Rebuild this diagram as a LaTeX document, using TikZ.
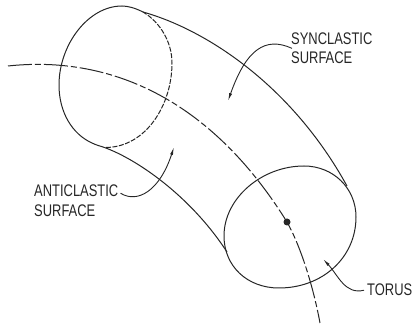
\documentclass[tikz,border=0pt]{standalone}
\usepackage{fontspec}
\setmainfont[FakeStretch=0.77]{Liberation Sans}
\usetikzlibrary{arrows.meta}

\begin{document}
\begin{tikzpicture}[
  x=1pt, y=-1pt,
  label/.style={font=\fontsize{16.8}{19}\selectfont, text=black!85, anchor=base west, inner sep=0pt},
  edge/.style={line width=1pt, draw=black!85},
  hidden/.style={edge, dash pattern=on 5pt off 1.5pt},
  axis/.style={edge, dash pattern=on 24pt off 3pt on 6pt off 3pt},
  lead/.style={-{Latex[length=8pt,width=3pt]}, line width=0.9pt, draw=black!85},
]
\useasboundingbox (0,0) rectangle (413,328);

% ---------- labels ----------
\node[label] (syn1) at (291,45) {SYNCLASTIC};
\node[label] (syn2) at (291,64) {SURFACE};
\node[label] (anti1) at (34,197) {ANTICLASTIC};
\node[label] (anti2) at (34,217) {SURFACE};
\node[label] (torus) at (367,296) {TORUS};

% ---------- arrow ends ----------
\coordinate (synTip) at (228,101);
\coordinate (antiTip) at (174,147);
\coordinate (torusTip) at (323,259);

% ---------- body ----------
\draw[edge] (143,12) .. controls (135,8) and (128,6) .. (122,6) .. controls (88,6) and (59,45) .. (59,85)
  .. controls (59,112) and (72,134) .. (92,143) .. controls (96,145) and (100,146) .. (103,147);
\draw[hidden] (106,147.5) .. controls (146,147) and (172,105) .. (172,63) .. controls (172,42) and (160,22) .. (143,12);
\draw[edge] (143,12) .. controls (207,30) and (292,86) .. (347,186);
\draw[edge] (103,147) .. controls (135,158) and (190,195) .. (227,252);
\draw[edge] (304,166) .. controls (333,166) and (356,188) .. (356,217) .. controls (356,258) and (322,288) .. (279,288)
  .. controls (247,288) and (224,266) .. (224,236) .. controls (224,198) and (262,166) .. (304,166) -- cycle;

% ---------- centre line ----------
\node[circle, fill=black!85, inner sep=0pt, minimum size=7pt] (centre) at (287,222) {};
\draw[axis] (8,66) .. controls (100,56) and (205,90) .. (centre.center) .. controls (300,245) and (313,285) .. (320,323);

% ---------- leaders ----------
\draw[lead] (syn1.south west) ++(1,3) .. controls (265,36) and (246,50) .. (synTip);
\draw[lead] (anti1.east) ++(2,2) .. controls (138,204) and (160,190) .. (antiTip);
\draw[lead] (torus.west) ++(-3,0) .. controls (345,295) and (338,275) .. (torusTip);

\end{tikzpicture}
\end{document}
